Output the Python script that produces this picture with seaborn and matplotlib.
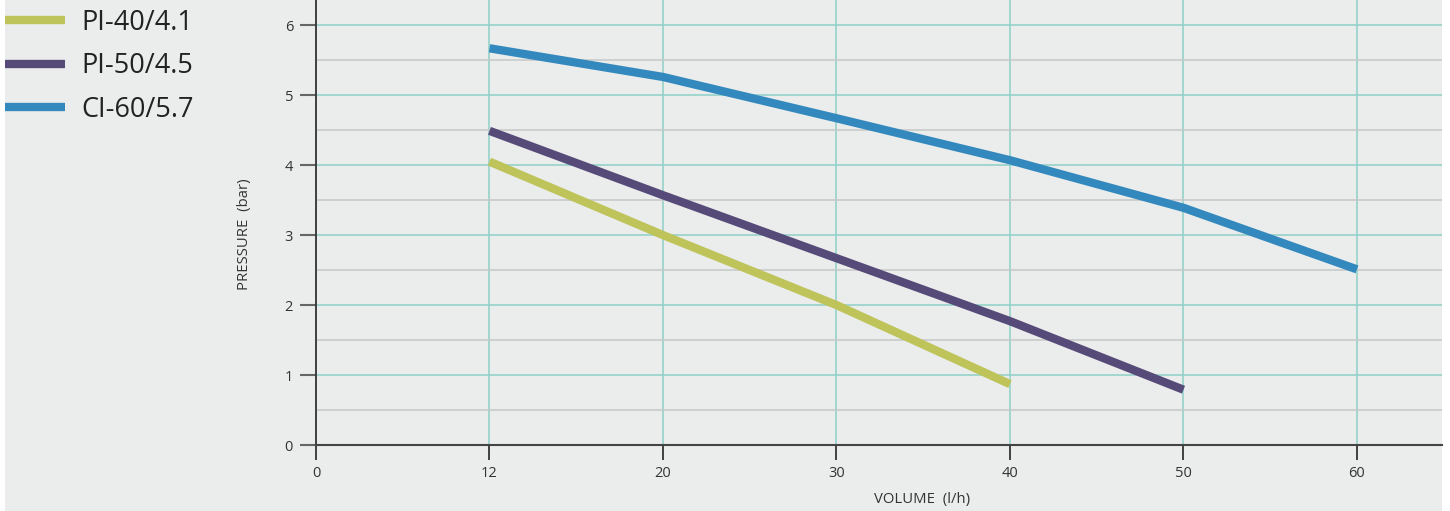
import pandas as pd
import seaborn as sns
import matplotlib.pyplot as plt
from matplotlib.patches import Rectangle
from matplotlib.ticker import MultipleLocator

# x axis uses evenly spaced categories
volume_ticks = [0, 12, 20, 30, 40, 50, 60]

pi40_volume = [12, 20, 30, 40]
pi40_pressure = [4.05, 3.0, 2.0, 0.87]

pi50_volume = [12, 20, 30, 40, 50]
pi50_pressure = [4.49, 3.57, 2.67, 1.77, 0.79]

ci60_volume = [12, 20, 30, 40, 50, 60]
ci60_pressure = [5.67, 5.26, 4.67, 4.07, 3.39, 2.51]

models = ['PI-40/4.1', 'PI-50/4.5', 'CI-60/5.7']
colors = ['#bec35a', '#564a78', '#3389bd']

BG = '#ebedec'
TEAL = '#8fd0c8'

rows = []
for name, vols, pres in [(models[0], pi40_volume, pi40_pressure),
                         (models[1], pi50_volume, pi50_pressure),
                         (models[2], ci60_volume, ci60_pressure)]:
    for v, p in zip(vols, pres):
        rows.append({'model': name, 'pos': volume_ticks.index(v), 'pressure': p})
df = pd.DataFrame(rows)

sns.set_style('white')
plt.rcParams['font.family'] = ['Open Sans', 'DejaVu Sans']

fig = plt.figure(figsize=(14.5, 5.11), dpi=100, facecolor='white')
fig.patches.append(Rectangle((5 / 1450, 0), 1437 / 1450, 1, transform=fig.transFigure,
                             facecolor=BG, edgecolor='none', zorder=-10))
ax = fig.add_axes([316 / 1450, 66 / 511, 1126 / 1450, 445 / 511])
ax.set_facecolor('none')

sns.lineplot(data=df, x='pos', y='pressure', hue='model', hue_order=models,
             palette=colors, linewidth=6, ax=ax, solid_capstyle='butt', zorder=5)

ax.set_xlim(0, 6.49)
ax.set_ylim(0, 6.36)
ax.set_xticks(range(len(volume_ticks)))
ax.set_xticklabels([str(v) for v in volume_ticks])
ax.yaxis.set_major_locator(MultipleLocator(1))
ax.yaxis.set_minor_locator(MultipleLocator(0.5))

ax.grid(True, which='major', color=TEAL, linewidth=1.1, zorder=1)
ax.grid(True, which='minor', axis='y', color='#c6c7c7', linewidth=1.1, zorder=1)
ax.set_axisbelow(True)

for s in ['top', 'right']:
    ax.spines[s].set_visible(False)
ax.spines['left'].set_color('#333333')
ax.spines['bottom'].set_color('#444444')
ax.spines['left'].set_linewidth(1.3)
ax.spines['bottom'].set_linewidth(1.5)

ax.tick_params(axis='y', which='major', length=11.5, width=1.5, color='#666666',
               labelsize=10.5, pad=5, labelcolor='#333333', left=True)
ax.tick_params(axis='y', which='minor', length=0)
ax.tick_params(axis='x', length=11, width=1.3, color='#333333', labelsize=10.5,
               pad=4, labelcolor='#333333', bottom=True)

ax.set_xlabel('VOLUME  (l/h)', fontsize=10.7, color='#333333')
ax.set_ylabel('PRESSURE  (bar)', fontsize=10.7, color='#333333')
ax.xaxis.set_label_coords(0.538, -0.105)
ax.yaxis.set_label_coords(-0.057, 0.474)

ax.legend(loc='upper left', bbox_to_anchor=(-0.0025, 1.0), bbox_transform=fig.transFigure,
          frameon=False, fontsize=19.5, handlelength=2.2, handletextpad=0.63,
          labelspacing=0.57, borderpad=0.2, borderaxespad=0.12, title=None)
for line in ax.get_legend().get_lines():
    line.set_linewidth(6)
for t in ax.get_legend().get_texts():
    t.set_color('#222222')

fig.savefig('out.png', dpi=100, facecolor='white')
